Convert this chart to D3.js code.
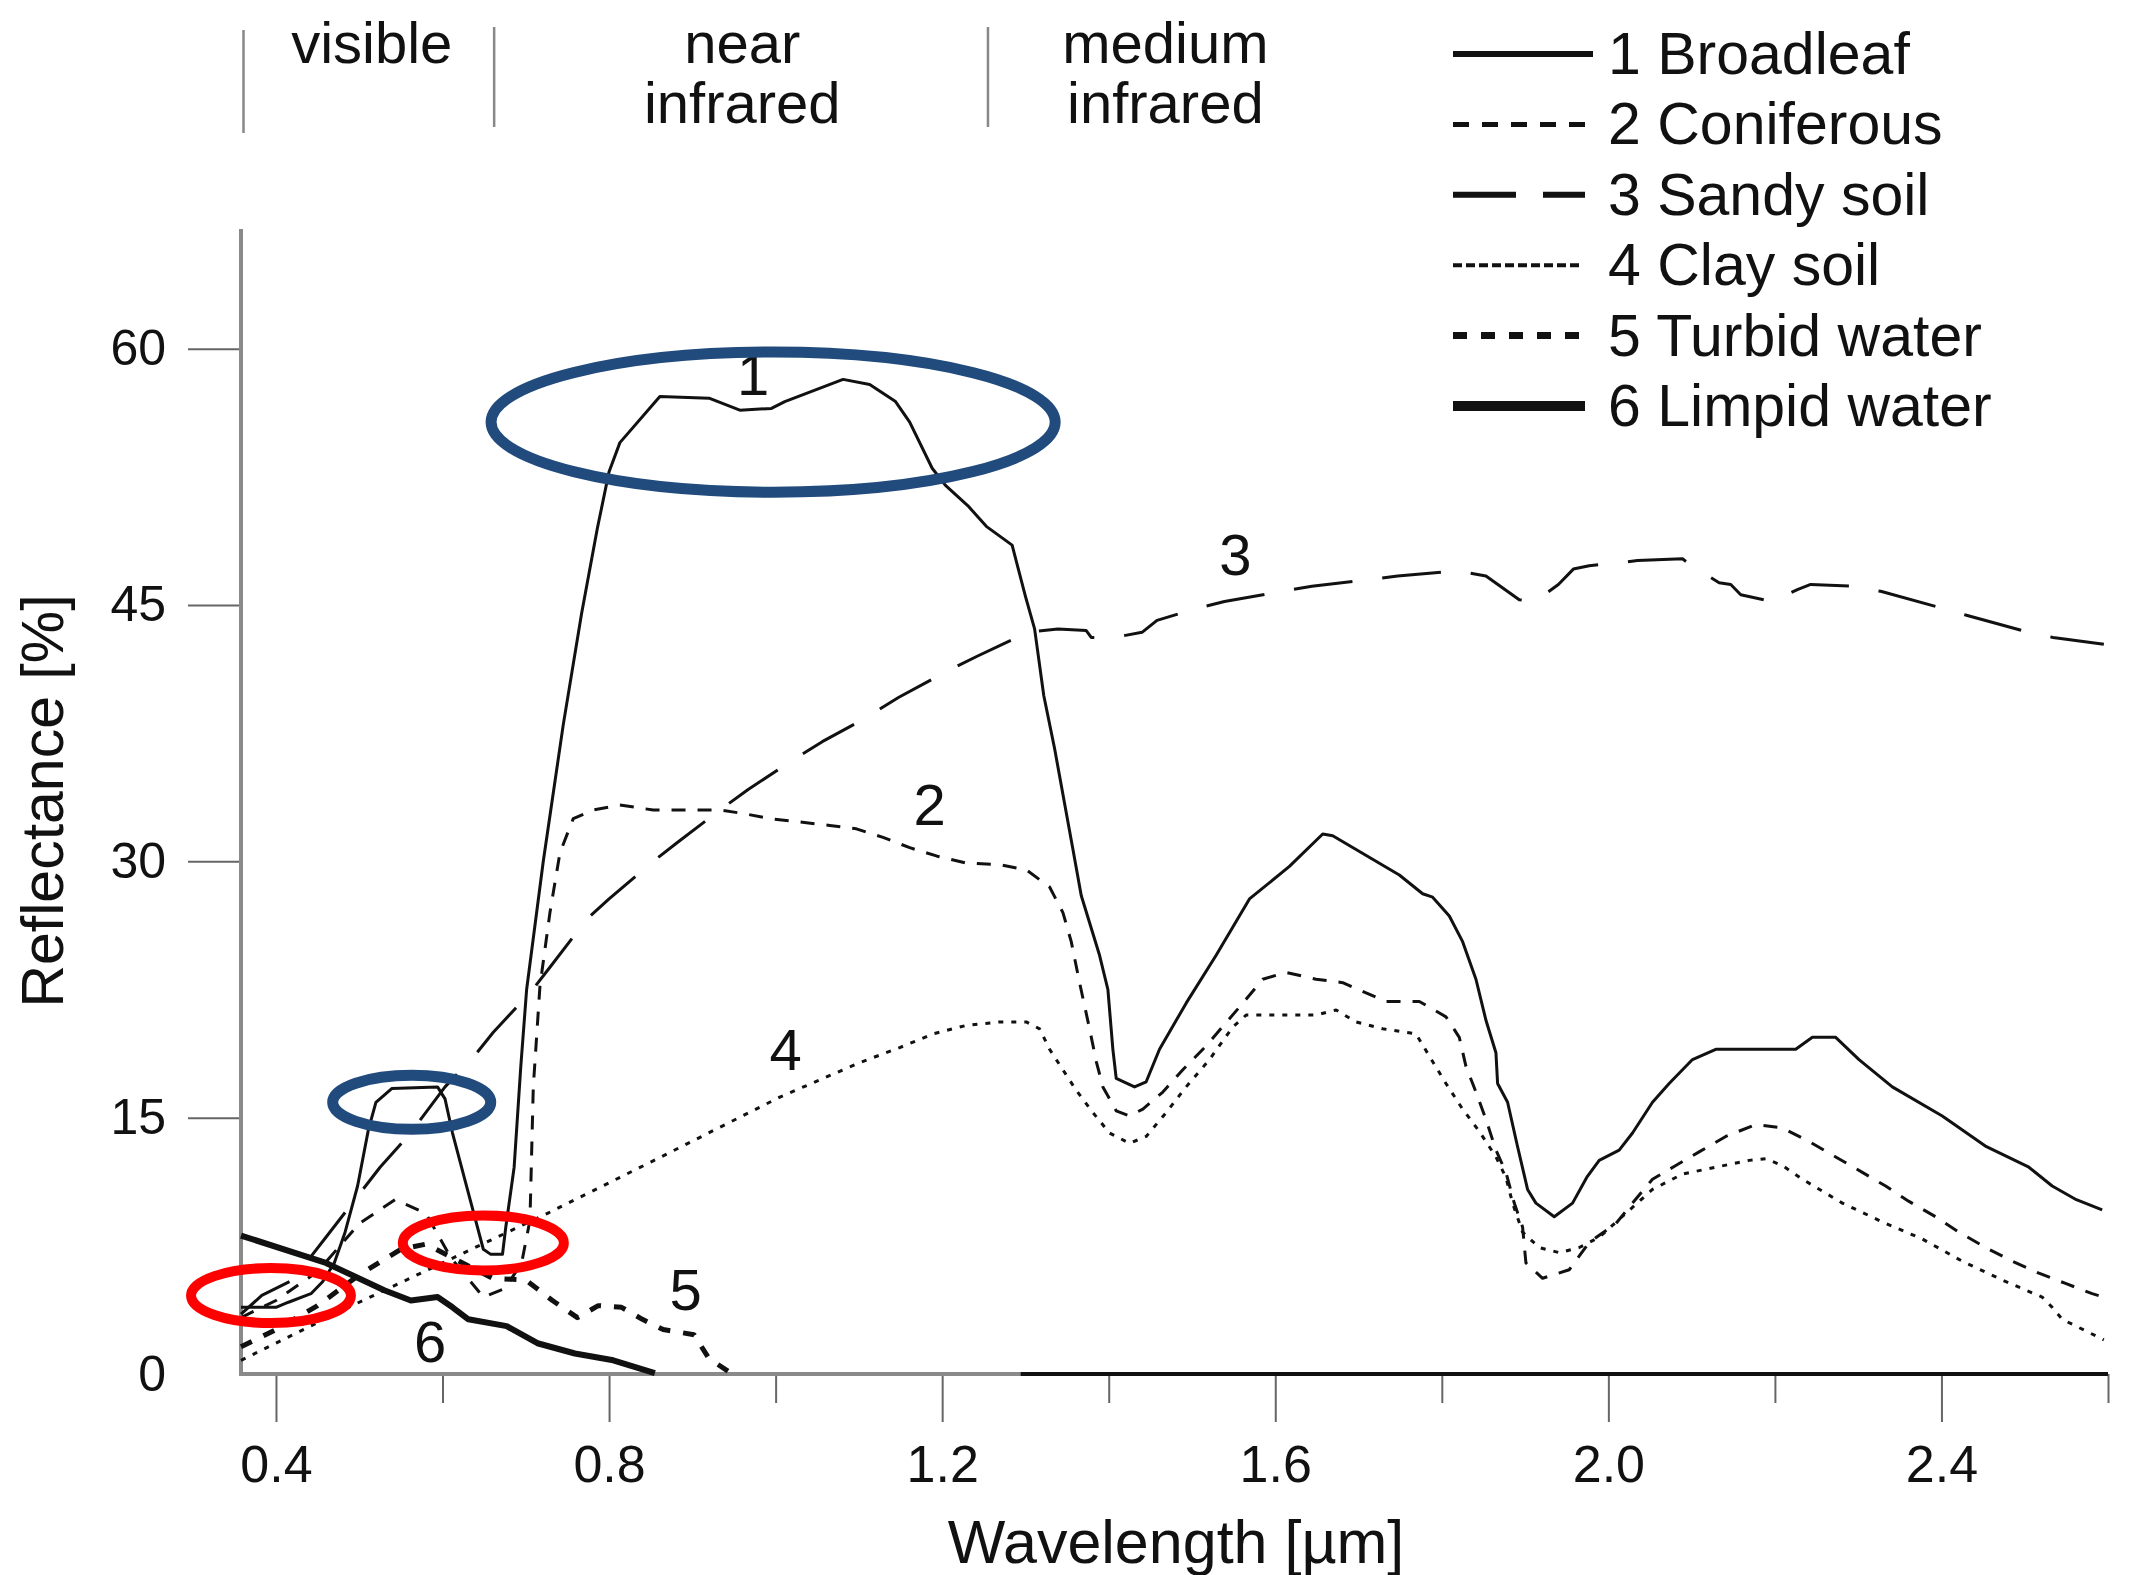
<!DOCTYPE html>
<html>
<head>
<meta charset="utf-8">
<script src="https://cdn.jsdelivr.net/npm/d3@7"></script>
<style>
  body { margin: 0; background: #fff; }
  text { font-family: "Liberation Sans", Arial, sans-serif; fill: #111; }
</style>
</head>
<body>
<div id="chart"></div>
<script>
// spectral curves, [wavelength um, reflectance %]
var broadleaf = [[0.358,3.9],[0.40,3.9],[0.415,4.2],[0.442,4.7],[0.456,5.4],[0.47,6.5],[0.483,8.3],[0.498,11.0],[0.511,14.3],[0.52,15.9],[0.539,16.7],[0.594,16.8],[0.603,16.1],[0.612,14.1],[0.631,10.6],[0.649,7.3],[0.658,7.0],[0.672,7.0],[0.676,8.6],[0.686,12.1],[0.694,18.0],[0.701,22.5],[0.721,30.0],[0.745,38.0],[0.767,44.5],[0.786,49.5],[0.80,52.8],[0.813,54.5],[0.861,57.2],[0.92,57.1],[0.957,56.4],[0.995,56.5],[1.011,56.9],[1.081,58.2],[1.113,57.9],[1.144,56.9],[1.161,55.7],[1.188,53.0],[1.204,52.0],[1.231,50.8],[1.253,49.6],[1.284,48.5],[1.30,45.5],[1.311,43.6],[1.322,39.7],[1.335,36.6],[1.357,30.7],[1.367,28.0],[1.389,24.5],[1.399,22.5],[1.405,19.0],[1.409,17.3],[1.431,16.8],[1.445,17.1],[1.461,19.0],[1.493,21.7],[1.529,24.5],[1.569,27.8],[1.617,29.7],[1.657,31.6],[1.669,31.5],[1.749,29.2],[1.777,28.1],[1.789,27.9],[1.809,26.8],[1.825,25.3],[1.841,23.1],[1.853,20.7],[1.865,18.8],[1.867,17.0],[1.879,15.9],[1.891,13.3],[1.903,10.8],[1.913,10.0],[1.935,9.2],[1.957,10.0],[1.974,11.5],[1.989,12.5],[2.013,13.1],[2.029,14.1],[2.053,15.9],[2.073,17.0],[2.101,18.4],[2.129,19.0],[2.225,19.0],[2.245,19.7],[2.273,19.7],[2.301,18.4],[2.341,16.8],[2.401,15.1],[2.454,13.3],[2.505,12.1],[2.533,11.0],[2.562,10.2],[2.593,9.6]];

var coniferous = [[0.358,3.3],[0.40,4.3],[0.45,6.0],[0.50,8.8],[0.543,10.2],[0.58,9.4],[0.61,6.8],[0.649,4.5],[0.675,5.0],[0.695,6.5],[0.705,9.0],[0.709,16.8],[0.717,22.7],[0.729,27.0],[0.741,30.5],[0.757,32.5],[0.781,33.0],[0.813,33.3],[0.853,33.0],[0.933,33.0],[0.961,32.8],[0.993,32.5],[1.029,32.3],[1.065,32.1],[1.097,31.9],[1.129,31.4],[1.161,30.8],[1.194,30.3],[1.229,29.9],[1.269,29.8],[1.301,29.5],[1.329,28.5],[1.345,27.0],[1.355,25.3],[1.365,22.9],[1.377,20.2],[1.385,18.3],[1.393,16.8],[1.409,15.4],[1.425,15.1],[1.441,15.5],[1.465,16.5],[1.489,17.8],[1.517,19.2],[1.561,21.7],[1.585,23.1],[1.613,23.5],[1.649,23.1],[1.681,22.9],[1.709,22.3],[1.733,21.8],[1.773,21.8],[1.805,20.9],[1.821,19.7],[1.829,18.0],[1.841,16.5],[1.853,14.9],[1.865,13.1],[1.877,11.8],[1.887,10.0],[1.897,8.6],[1.901,6.5],[1.921,5.6],[1.953,6.1],[1.977,7.7],[2.009,8.8],[2.029,10.0],[2.053,11.4],[2.081,12.2],[2.109,13.0],[2.141,13.9],[2.177,14.6],[2.209,14.4],[2.241,13.6],[2.273,12.7],[2.305,11.8],[2.333,11.0],[2.361,10.1],[2.393,9.2],[2.421,8.3],[2.453,7.4],[2.485,6.6],[2.517,5.9],[2.549,5.3],[2.581,4.7],[2.595,4.5]];

var sandySoil = [[0.358,3.5],[0.383,4.6],[0.42,5.5],[0.46,8.0],[0.498,10.4],[0.525,12.1],[0.56,14.0],[0.603,16.8],[0.638,18.6],[0.661,20.0],[0.705,22.3],[0.729,23.8],[0.773,26.6],[0.80,27.8],[0.853,30.0],[0.882,31.1],[0.933,33.0],[0.967,34.2],[1.023,36.0],[1.056,37.0],[1.105,38.3],[1.148,39.6],[1.209,41.2],[1.242,42.0],[1.303,43.4],[1.339,43.6],[1.373,43.5],[1.379,43.1],[1.407,43.1],[1.44,43.4],[1.458,44.1],[1.506,44.8],[1.539,45.2],[1.609,45.8],[1.644,46.1],[1.716,46.5],[1.747,46.7],[1.819,47.0],[1.853,46.7],[1.893,45.3],[1.912,45.2],[1.94,46.2],[1.958,47.1],[1.977,47.3],[2.0,47.4],[2.035,47.6],[2.089,47.7],[2.103,47.2],[2.133,46.3],[2.147,46.2],[2.159,45.6],[2.196,45.2],[2.227,45.9],[2.243,46.2],[2.292,46.1],[2.327,45.8],[2.394,44.9],[2.43,44.4],[2.497,43.5],[2.534,43.1],[2.595,42.7]];

var claySoil = [[0.358,0.8],[0.50,4.2],[0.60,6.5],[0.726,9.4],[0.85,12.4],[1.005,16.2],[1.10,18.2],[1.149,19.1],[1.189,19.9],[1.229,20.4],[1.269,20.6],[1.301,20.6],[1.317,20.2],[1.329,19.0],[1.345,17.8],[1.361,16.6],[1.381,15.3],[1.401,14.1],[1.425,13.5],[1.445,13.9],[1.469,15.3],[1.493,16.8],[1.521,18.4],[1.549,20.3],[1.565,21.0],[1.649,21.0],[1.673,21.3],[1.697,20.6],[1.729,20.2],[1.769,19.9],[1.785,18.6],[1.805,17.0],[1.825,15.5],[1.845,14.2],[1.865,12.7],[1.877,11.5],[1.885,10.0],[1.897,8.3],[1.917,7.4],[1.941,7.1],[1.965,7.4],[1.989,8.0],[2.021,9.4],[2.053,10.8],[2.089,11.7],[2.129,12.1],[2.169,12.5],[2.189,12.6],[2.209,12.2],[2.233,11.4],[2.281,10.0],[2.329,8.9],[2.377,7.9],[2.425,6.6],[2.473,5.5],[2.521,4.5],[2.533,3.9],[2.545,3.2],[2.595,2.0]];

var turbidWater = [[0.358,1.6],[0.40,2.6],[0.45,4.0],[0.50,5.8],[0.55,7.3],[0.58,7.6],[0.62,6.6],[0.66,5.6],[0.70,5.5],[0.732,4.3],[0.762,3.3],[0.787,4.0],[0.815,3.9],[0.84,3.2],[0.865,2.6],[0.902,2.3],[0.92,0.9],[0.945,0.1]];

var limpidWater = [[0.358,8.1],[0.46,6.5],[0.53,4.9],[0.562,4.3],[0.594,4.5],[0.612,3.9],[0.631,3.2],[0.677,2.8],[0.714,1.8],[0.759,1.2],[0.805,0.8],[0.855,0.05]];

var seriesNames = ["1 Broadleaf", "2 Coniferous", "3 Sandy soil", "4 Clay soil", "5 Turbid water", "6 Limpid water"];
var curveNumbers = ["1", "2", "3", "4", "5", "6"];
// where the curve numbers sit, [wavelength, reflectance]
var curveNumberAt = [[0.973,57.3],[1.185,32.1],[1.552,46.75],[1.012,17.8],[0.892,3.75],[0.585,0.7]];

var xMajorTicks = [0.4, 0.8, 1.2, 1.6, 2.0, 2.4];
var xMinorTicks = [0.6, 1.0, 1.4, 1.8, 2.2, 2.6];
var xTickLabels = ["0.4", "0.8", "1.2", "1.6", "2.0", "2.4"];
var yTicks = [0, 15, 30, 45, 60];

// spectral regions at the top
var regionEdges = [0.361, 0.662, 1.255];
var regionLabels = [["visible"], ["near", "infrared"], ["medium", "infrared"]];
var regionLabelAt = [0.515, 0.96, 1.468];

// highlight rings: [centre wl, centre refl, half width um, half height %]
var blueRings = [[0.997,55.7,0.3387,4.1],[0.563,15.9,0.0949,1.58]];
var redRings = [[0.394,4.59,0.096,1.61],[0.649,7.67,0.0967,1.61]];

var svgWidth = 2129, svgHeight = 1575;
var svg = d3.select("#chart").append("svg")
  .attr("width", svgWidth)
  .attr("height", svgHeight);

var x = d3.scaleLinear().domain([0.358, 2.6]).range([241, 2108]);
var y = d3.scaleLinear().domain([0, 67]).range([1374, 229]);

// styles per curve
var styles = [
  {w: 3, dash: null},
  {w: 3, dash: "14,12"},
  {w: 3, dash: "59,30"},
  {w: 3, dash: "5,8"},
  {w: 5, dash: "12,13"},
  {w: 6, dash: null}
];
var legendStyles = [
  {w: 6, dash: null, len: 140},
  {w: 5, dash: "16,13", len: 138},
  {w: 6, dash: "63,27", len: 132},
  {w: 4, dash: "9,4", len: 128},
  {w: 7, dash: "14,14", len: 138},
  {w: 10, dash: null, len: 132}
];

// axes
var xAxisG = svg.append("g").attr("transform", `translate(0,${y(0)})`);
xAxisG.append("g")
  .call(d3.axisBottom(x).tickValues(xMinorTicks).tickSize(29).tickFormat(""))
  .call(g => g.select(".domain").remove());
xAxisG.append("g")
  .call(d3.axisBottom(x).tickValues(xMajorTicks).tickSize(48).tickPadding(23)
    .tickFormat((d, i) => xTickLabels[i]))
  .call(g => g.select(".domain").remove());
xAxisG.selectAll("line").attr("stroke", "#666").attr("stroke-width", 2);
xAxisG.selectAll("text").attr("font-size", 52).attr("font-family", "Liberation Sans, Arial, sans-serif").attr("fill", "#111");

var yAxisG = svg.append("g").attr("transform", `translate(${x.range()[0]},0)`)
  .call(d3.axisLeft(y).tickValues(yTicks).tickSize(53).tickPadding(22))
  .call(g => g.select(".domain").remove());
yAxisG.selectAll("line").attr("stroke", "#666").attr("stroke-width", 2);
yAxisG.selectAll(".tick").filter(d => d === 0).select("line").remove();
yAxisG.selectAll("text").attr("font-size", 50).attr("font-family", "Liberation Sans, Arial, sans-serif").attr("fill", "#111");

// axis lines
svg.append("line")
  .attr("x1", x.range()[0]).attr("x2", x.range()[0])
  .attr("y1", y.range()[1]).attr("y2", y(0) + 2)
  .attr("stroke", "#8a8a8a").attr("stroke-width", 4);
svg.append("line")
  .attr("x1", x.range()[0]).attr("x2", x(1.294))
  .attr("y1", y(0)).attr("y2", y(0))
  .attr("stroke", "#8a8a8a").attr("stroke-width", 4);
svg.append("line")
  .attr("x1", x(1.294)).attr("x2", x.range()[1])
  .attr("y1", y(0)).attr("y2", y(0))
  .attr("stroke", "#111").attr("stroke-width", 4);

// axis titles
svg.append("text")
  .attr("x", 1176).attr("y", 1563)
  .attr("text-anchor", "middle").attr("font-size", 61)
  .text("Wavelength [\u00b5m]");
svg.append("text")
  .attr("transform", "translate(63,801) rotate(-90)")
  .attr("text-anchor", "middle").attr("font-size", 59)
  .text("Reflectance [%]");

// curves
var line = d3.line().x(d => x(d[0])).y(d => y(d[1]));
var allSeries = [broadleaf, coniferous, sandySoil, claySoil, turbidWater, limpidWater];
svg.append("g").selectAll("path")
  .data(allSeries)
  .enter()
  .append("path")
  .attr("d", line)
  .attr("fill", "none")
  .attr("stroke", "#111")
  .attr("stroke-linejoin", "round")
  .attr("stroke-width", (d, i) => styles[i].w)
  .attr("stroke-dasharray", (d, i) => styles[i].dash);

// curve numbers
svg.append("g").selectAll("text")
  .data(curveNumberAt)
  .enter()
  .append("text")
  .attr("x", d => x(d[0]))
  .attr("y", d => y(d[1]))
  .attr("text-anchor", "middle")
  .attr("font-size", 58)
  .text((d, i) => curveNumbers[i]);

// region separators and labels
svg.append("g").selectAll("line")
  .data(regionEdges)
  .enter()
  .append("line")
  .attr("x1", d => x(d)).attr("x2", d => x(d))
  .attr("y1", (d, i) => i === 0 ? 30 : 27)
  .attr("y2", (d, i) => i === 0 ? 133 : 127)
  .attr("stroke", "#888").attr("stroke-width", 2.5);
regionLabels.forEach(function(lines, i) {
  lines.forEach(function(t, j) {
    svg.append("text")
      .attr("x", x(regionLabelAt[i]))
      .attr("y", 63 + j * 60)
      .attr("text-anchor", "middle")
      .attr("font-size", 58)
      .text(t);
  });
});

// legend
var legend = svg.append("g").attr("transform", "translate(1453,54)");
var rows = legend.selectAll("g")
  .data(seriesNames)
  .enter()
  .append("g")
  .attr("transform", (d, i) => `translate(0,${i * 70.4})`);
rows.append("line")
  .attr("x1", 0).attr("x2", (d, i) => legendStyles[i].len)
  .attr("y1", 0).attr("y2", 0)
  .attr("stroke", "#111")
  .attr("stroke-width", (d, i) => legendStyles[i].w)
  .attr("stroke-dasharray", (d, i) => legendStyles[i].dash);
rows.append("text")
  .attr("x", 155).attr("y", 20)
  .attr("font-size", 59)
  .text(d => d);

// highlight rings
function ring(color, width) {
  return function(sel) {
    sel.append("ellipse")
      .attr("cx", d => x(d[0]))
      .attr("cy", d => y(d[1]))
      .attr("rx", d => x(d[0] + d[2]) - x(d[0]))
      .attr("ry", d => y(d[1]) - y(d[1] + d[3]))
      .attr("fill", "none")
      .attr("stroke", color)
      .attr("stroke-width", width);
  };
}
svg.append("g").selectAll("g").data(blueRings).enter().append("g")
  .call(ring("#214a7d", 11));
svg.append("g").selectAll("g").data(redRings).enter().append("g")
  .call(ring("#fe0000", 10));
</script>
</body>
</html>
